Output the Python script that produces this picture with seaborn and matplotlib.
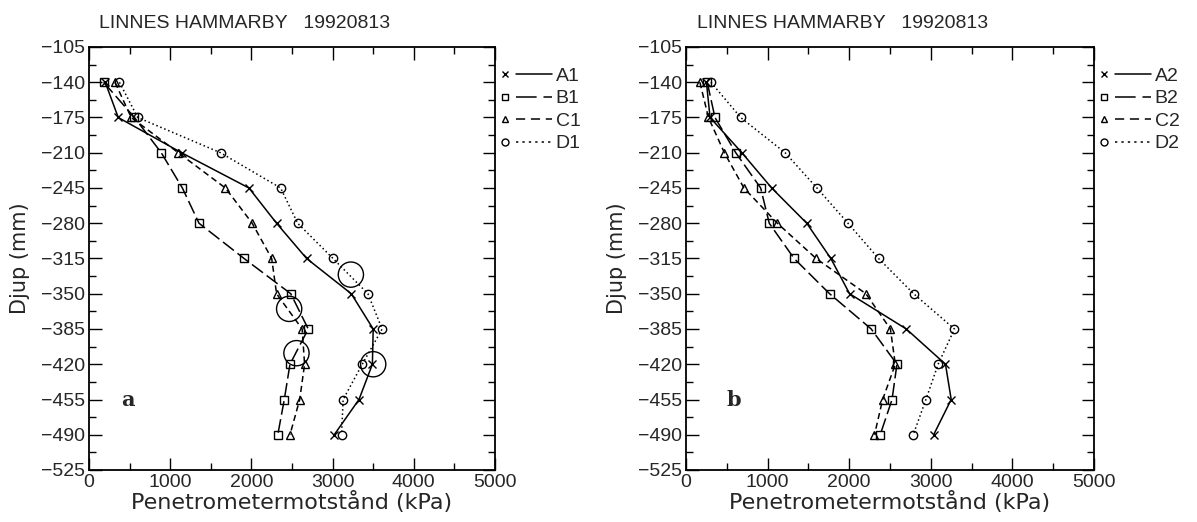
import matplotlib
matplotlib.use("Agg")
import matplotlib.pyplot as plt
import seaborn as sns
import pandas as pd
import numpy as np
from matplotlib.lines import Line2D
from matplotlib.legend_handler import HandlerBase
from matplotlib.ticker import MultipleLocator

# ---------------- data ----------------
depth = [-140, -175, -210, -245, -280, -315, -350, -385, -420, -455, -490]

A1 = [200, 360, 1140, 1970, 2310, 2680, 3230, 3500, 3490, 3325, 3020]
B1 = [180, 560, 890, 1150, 1355, 1910, 2485, 2700, 2475, 2405, 2325]
C1 = [320, 520, 1100, 1680, 2010, 2250, 2310, 2625, 2655, 2595, 2475]
D1 = [375, 600, 1620, 2360, 2570, 3005, 3435, 3610, 3365, 3130, 3110]

A2 = [250, 295, 685, 1050, 1480, 1775, 2005, 2700, 3180, 3250, 3035]
B2 = [260, 355, 610, 915, 1020, 1325, 1760, 2270, 2585, 2525, 2380]
C2 = [170, 275, 470, 710, 1120, 1595, 2205, 2505, 2565, 2410, 2310]
D2 = [305, 670, 1215, 1605, 1985, 2360, 2790, 3290, 3090, 2940, 2785]

# hand-drawn circles on panel a (x, depth)
circ_x = [3225, 2465, 2555, 3500]
circ_y = [-331, -365, -409, -420]

labels_a = ["A1", "B1", "C1", "D1"]
labels_b = ["A2", "B2", "C2", "D2"]
title = "LINNES HAMMARBY   19920813"
xlabel = "Penetrometermotstånd (kPa)"
ylabel = "Djup (mm)"
xticks = [0, 1000, 2000, 3000, 4000, 5000]
yticks = [-105, -140, -175, -210, -245, -280, -315, -350, -385, -420, -455, -490, -525]

# ---------------- style ----------------
sns.set_style("ticks")
plt.rcParams['font.family'] = ['Liberation Sans Narrow', 'Liberation Sans', 'DejaVu Sans']
plt.rcParams['axes.unicode_minus'] = True

styles = [
    dict(marker="x", ls="-"),
    dict(marker="s", ls=(0, (9, 3))),
    dict(marker="^", ls=(0, (4, 2.5))),
    dict(marker="o", ls=(0, (1, 1.8))),
]


class MarkerLineHandler(HandlerBase):
    def create_artists(self, legend, orig_handle, xdescent, ydescent,
                       width, height, fontsize, trans):
        y = height / 2.0 - ydescent
        x0 = -xdescent
        m = Line2D([x0 + 0.08 * width], [y], marker=orig_handle.get_marker(),
                   ls="none", mfc="none", mec="black", mew=1.0, ms=5)
        ln = Line2D([x0 + 0.3 * width, x0 + width], [y, y],
                    ls=orig_handle.get_linestyle(), color="black", lw=1.1)
        if orig_handle._dash_pattern[1]:
            ln.set_dashes(orig_handle._dash_pattern[1])
        m.set_transform(trans)
        ln.set_transform(trans)
        return [m, ln]


fig = plt.figure(figsize=(11.97, 5.22), dpi=100)
ax_a = fig.add_axes([89 / 1197, 1 - 470 / 522, 406 / 1197, 423 / 522])
ax_b = fig.add_axes([686 / 1197, 1 - 470 / 522, 408 / 1197, 423 / 522])


def draw_panel(ax, series, labels, letter, letter_x):
    handles = []
    for vals, lab, st in zip(series, labels, styles):
        df = pd.DataFrame({"x": vals, "y": depth})
        sns.lineplot(data=df, x="x", y="y", sort=False, estimator=None,
                     errorbar=None, ax=ax, color="black",
                     linestyle=st["ls"], marker=st["marker"], markersize=6,
                     markerfacecolor="none", markeredgecolor="black",
                     markeredgewidth=1.0, linewidth=1.1, legend=False)
        handles.append(Line2D([], [], marker=st["marker"], ls=st["ls"], color="black"))
    ax.set_xlim(0, 5000)
    ax.set_ylim(-525, -105)
    ax.set_xticks(xticks)
    ax.set_xticklabels([str(t) for t in xticks])
    ax.set_yticks(yticks)
    ax.set_yticklabels([f"\u2212{abs(t)}" for t in yticks])
    ax.xaxis.set_minor_locator(MultipleLocator(500))
    ax.yaxis.set_minor_locator(MultipleLocator(17.5))
    ax.tick_params(which="both", direction="in", top=True, right=True,
                   color="black", width=1.0)
    ax.tick_params(which="major", length=9, labelsize=14, pad=3)
    ax.tick_params(which="minor", length=5)
    for sp in ax.spines.values():
        sp.set_linewidth(1.3)
        sp.set_color("black")
    ax.set_xlabel(xlabel, fontsize=16, family=["DejaVu Sans"], labelpad=0)
    ax.set_ylabel(ylabel, fontsize=15, family=["DejaVu Sans"])
    ax.yaxis.set_label_coords(-0.145, 0.5)
    ax.text(0.384, 1.035, title, transform=ax.transAxes, ha="center", va="bottom",
            fontsize=14)
    ax.text(letter_x, -455, letter, fontsize=15, fontweight="bold",
            family=["DejaVu Serif"], ha="center", va="center")
    ax.legend(handles, labels, loc="upper left", bbox_to_anchor=(1.015, 0.952),
              frameon=False, fontsize=14, handlelength=2.6, handletextpad=0.2,
              labelspacing=0.25, borderaxespad=0, borderpad=0,
              handler_map={Line2D: MarkerLineHandler()})
    return ax


draw_panel(ax_a, [A1, B1, C1, D1], labels_a, "a", 480)
draw_panel(ax_b, [A2, B2, C2, D2], labels_b, "b", 580)

sns.scatterplot(x=circ_x, y=circ_y, ax=ax_a, s=330, facecolor="none",
                edgecolor="black", linewidth=1.0, legend=False)

fig.savefig("out.png", dpi=100)
